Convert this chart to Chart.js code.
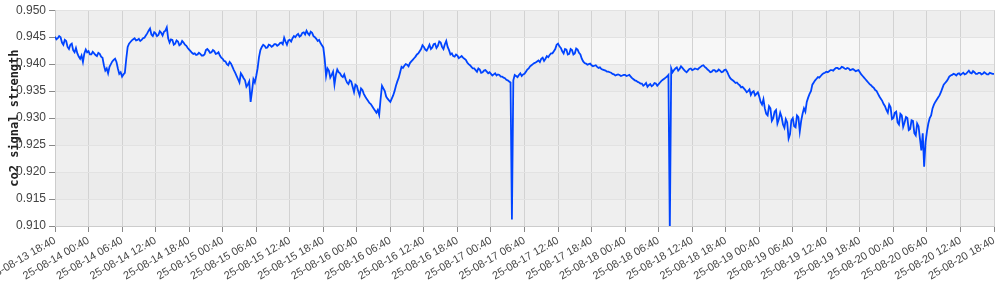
<!DOCTYPE html>
<html><head><meta charset="utf-8">
<script src="https://cdn.jsdelivr.net/npm/chart.js@4"></script>
<style>html,body{margin:0;padding:0;background:#fff}#wrap{width:1000px;height:290px}</style>
</head><body><div id="wrap"><canvas id="c" width="1000" height="290"></canvas></div>
<script>
const xTickLabels = [
  "25-08-13 18:40","25-08-14 00:40","25-08-14 06:40","25-08-14 12:40","25-08-14 18:40",
  "25-08-15 00:40","25-08-15 06:40","25-08-15 12:40","25-08-15 18:40",
  "25-08-16 00:40","25-08-16 06:40","25-08-16 12:40","25-08-16 18:40",
  "25-08-17 00:40","25-08-17 06:40","25-08-17 12:40","25-08-17 18:40",
  "25-08-18 00:40","25-08-18 06:40","25-08-18 12:40","25-08-18 18:40",
  "25-08-19 00:40","25-08-19 06:40","25-08-19 12:40","25-08-19 18:40",
  "25-08-20 00:40","25-08-20 06:40","25-08-20 12:40","25-08-20 18:40"
];
const tickStepHours = 6;
const yTickValues = [0.950,0.945,0.940,0.935,0.930,0.925,0.920,0.915,0.910];
const sampleStepHours = 0.5;
// readings on the half hour (t = 0, 0.5, 1, ...)
const signal = [
  .9451,.9448,.9450,.9436,.9443,.9428,.9438,.9422,.9420,.9410,
  .9404,.9427,.9424,.9418,.9420,.9415,.9419,.9412,.9388,.9383,
  .9400,.9408,.9404,.9382,.9377,.9384,.9432,.9441,.9446,.9444,
  .9447,.9445,.9449,.9457,.9466,.9452,.9457,.9454,.9458,.9460,
  .9468,.9440,.9445,.9438,.9442,.9437,.9440,.9434,.9427,.9421,
  .9420,.9418,.9419,.9416,.9426,.9425,.9422,.9424,.9420,.9416,
  .9410,.9405,.9398,.9401,.9389,.9378,.9366,.9379,.9370,.9362,
  .9330,.9372,.9378,.9413,.9432,.9434,.9431,.9435,.9434,.9437,
  .9436,.9440,.9449,.9436,.9445,.9448,.9450,.9456,.9453,.9459,
  .9462,.9454,.9458,.9450,.9443,.9439,.9431,.9378,.9388,.9380,
  .9362,.9390,.9383,.9376,.9372,.9363,.9368,.9348,.9360,.9342,
  .9352,.9340,.9332,.9326,.9318,.9310,.9306,.9360,.9350,.9336,
  .9330,.9342,.9360,.9375,.9395,.9397,.9399,.9402,.9408,.9414,
  .9420,.9428,.9432,.9425,.9436,.9431,.9438,.9434,.9440,.9428,
  .9443,.9426,.9420,.9414,.9416,.9413,.9412,.9408,.9400,.9395,
  .9392,.9386,.9390,.9385,.9389,.9383,.9382,.9381,.9379,.9380,
  .9377,.9374,.9370,.9366,.9370,.9378,.9380,.9378,.9382,.9390,
  .9396,.9400,.9403,.9407,.9410,.9406,.9415,.9417,.9420,.9428,
  .9438,.9430,.9420,.9427,.9419,.9426,.9420,.9427,.9418,.9405,
  .9401,.9400,.9398,.9397,.9395,.9394,.9390,.9388,.9386,.9384,
  .9381,.9380,.9380,.9379,.9380,.9379,.9377,.9372,.9369,.9366,
  .9364,.9362,.9358,.9363,.9361,.9364,.9363,.9369,.9373,.9377,
  .9090,.9385,.9392,.9388,.9396,.9390,.9385,.9391,.9389,.9392,
  .9390,.9395,.9398,.9393,.9388,.9386,.9389,.9387,.9388,.9386,
  .9390,.9380,.9372,.9368,.9366,.9361,.9358,.9352,.9350,.9343,
  .9350,.9345,.9340,.9325,.9318,.9305,.9318,.9300,.9315,.9298,
  .9302,.9282,.9292,.9270,.9300,.9283,.9302,.9295,.9318,.9330,
  .9345,.9362,.9370,.9376,.9378,.9383,.9386,.9387,.9389,.9391,
  .9393,.9392,.9394,.9391,.9392,.9390,.9389,.9388,.9385,.9378,
  .9372,.9366,.9361,.9356,.9350,.9340,.9332,.9322,.9310,.9320,
  .9300,.9312,.9288,.9305,.9292,.9300,.9280,.9295,.9268,.9285,
  .9240,.9210,.9275,.9300,.9318,.9330,.9338,.9348,.9362,.9368,
  .9377,.9380,.9381,.9382,.9380,.9384,.9382,.9388,.9383,.9385,
  .9382,.9384,.9382,.9383,.9381,.9383,.9382
];
// readings a quarter hour later (t = 0.25, 0.75, 1.25, ...)
const signalQuarter = [
  .9446,.9452,.9440,.9445,.9432,.9436,.9426,.9430,.9414,.9416,
  .9420,.9422,.9418,.9423,.9417,.9421,.9414,.9398,.9392,.9395,
  .9405,.9410,.9392,.9385,.9381,.9410,.9438,.9444,.9448,.9445,
  .9443,.9448,.9453,.9462,.9455,.9459,.9452,.9461,.9453,.9462,
  .9448,.9446,.9436,.9444,.9435,.9443,.9436,.9430,.9424,.9419,
  .9417,.9421,.9416,.9418,.9428,.9421,.9426,.9419,.9422,.9412,
  .9406,.9400,.9404,.9395,.9384,.9372,.9383,.9374,.9358,.9368,
  .9350,.9366,.9392,.9426,.9436,.9430,.9436,.9432,.9437,.9434,
  .9439,.9437,.9442,.9444,.9442,.9452,.9454,.9451,.9458,.9455,
  .9457,.9460,.9452,.9447,.9445,.9435,.9410,.9392,.9375,.9386,
  .9380,.9385,.9378,.9381,.9366,.9370,.9358,.9362,.9350,.9355,
  .9345,.9336,.9328,.9322,.9314,.9315,.9335,.9355,.9340,.9333,
  .9336,.9350,.9368,.9385,.9393,.9400,.9396,.9405,.9411,.9418,
  .9424,.9435,.9427,.9430,.9428,.9437,.9430,.9442,.9432,.9437,
  .9432,.9418,.9415,.9418,.9411,.9415,.9410,.9403,.9398,.9392,
  .9389,.9392,.9384,.9388,.9386,.9385,.9379,.9383,.9381,.9377,
  .9375,.9371,.9368,.9112,.9380,.9376,.9383,.9381,.9386,.9392,
  .9398,.9402,.9405,.9404,.9412,.9410,.9413,.9420,.9424,.9436,
  .9433,.9424,.9428,.9418,.9428,.9418,.9429,.9421,.9410,.9402,
  .9399,.9401,.9396,.9398,.9393,.9391,.9389,.9386,.9385,.9382,
  .9379,.9381,.9378,.9380,.9378,.9380,.9374,.9370,.9367,.9364,
  .9360,.9365,.9361,.9359,.9365,.9360,.9366,.9371,.9375,.9380,
  .9392,.9389,.9394,.9391,.9393,.9387,.9388,.9392,.9390,.9391,
  .9393,.9397,.9395,.9390,.9385,.9389,.9386,.9390,.9385,.9389,
  .9386,.9375,.9370,.9365,.9363,.9357,.9355,.9348,.9353,.9348,
  .9342,.9348,.9330,.9335,.9308,.9322,.9295,.9312,.9290,.9310,
  .9288,.9298,.9262,.9296,.9285,.9305,.9275,.9308,.9312,.9338,
  .9350,.9366,.9373,.9375,.9381,.9384,.9385,.9389,.9388,.9393,
  .9391,.9395,.9392,.9393,.9389,.9391,.9387,.9389,.9381,.9375,
  .9369,.9363,.9358,.9352,.9345,.9336,.9326,.9315,.9325,.9298,
  .9310,.9292,.9308,.9284,.9302,.9278,.9296,.9272,.9290,.9262,
  .9272,.9255,.9290,.9305,.9325,.9334,.9342,.9355,.9365,.9372,
  .9379,.9382,.9379,.9383,.9382,.9381,.9385,.9384,.9387,.9382,
  .9384,.9381,.9385,.9381,.9384,.9382
];
const points = [];
signal.forEach((v, i) => {
  points.push({x: i * sampleStepHours, y: v});
  if (i < signalQuarter.length) points.push({x: i * sampleStepHours + sampleStepHours / 2, y: signalQuarter[i]});
});

const aboveBand = ['#eeeeee', '#f7f7f7'];
const belowBand = ['#ebebeb', '#efefef'];

function drawBands(ctx, a, y, colors) {
  for (let k = 0; k < yTickValues.length - 1; k++) {
    const t = y.getPixelForValue(yTickValues[k]);
    const b = y.getPixelForValue(yTickValues[k + 1]);
    ctx.fillStyle = colors[k % 2];
    ctx.fillRect(a.left, t, a.right - a.left, b - t);
  }
}

const bandPlugin = {
  id: 'bands',
  beforeDraw(chart) {
    const {ctx, chartArea: a, scales: {y}} = chart;
    ctx.save();
    drawBands(ctx, a, y, aboveBand);
    const pts = chart.getDatasetMeta(0).data;
    ctx.beginPath();
    ctx.rect(a.left, a.top, a.right - a.left, a.bottom - a.top);
    ctx.clip();
    ctx.beginPath();
    ctx.moveTo(pts[0].x, a.bottom);
    pts.forEach(p => ctx.lineTo(p.x, p.y));
    ctx.lineTo(pts[pts.length - 1].x, a.bottom);
    ctx.closePath();
    ctx.clip();
    drawBands(ctx, a, y, belowBand);
    ctx.restore();
  }
};

new Chart(document.getElementById('c'), {
  type: 'line',
  data: {
    datasets: [{
      data: points,
      borderColor: '#0044ff',
      borderWidth: 1.8,
      pointRadius: 0,
      tension: 0,
      fill: false
    }]
  },
  options: {
    responsive: false,
    animation: false,
    devicePixelRatio: 1,
    layout: {padding: {top: 6, right: 6, left: 0, bottom: 0}},
    plugins: {legend: {display: false}, tooltip: {enabled: false}},
    scales: {
      x: {
        type: 'linear',
        min: 0,
        max: (xTickLabels.length - 1) * tickStepHours,
        ticks: {
          stepSize: tickStepHours,
          autoSkip: false,
          minRotation: 30,
          maxRotation: 30,
          color: '#444',
          font: {family: '"Liberation Sans", Arial, sans-serif', size: 11},
          padding: 2,
          callback: (v) => xTickLabels[Math.round(v / tickStepHours)]
        },
        grid: {color: '#d2d2d2', tickColor: '#888', tickLength: 6, lineWidth: 1},
        border: {color: '#cccccc'},
        afterFit: (s) => { s.height = 64; s.paddingLeft = 0; s.paddingRight = 0; }
      },
      y: {
        min: 0.910,
        max: 0.950,
        afterBuildTicks: (s) => { s.ticks = yTickValues.map(v => ({value: v})); },
        ticks: {
          color: '#444',
          font: {family: '"Liberation Sans", Arial, sans-serif', size: 12},
          padding: 3,
          callback: (v) => Number(v).toFixed(3)
        },
        grid: {color: '#e2e2e2', tickColor: '#888', tickLength: 6},
        border: {color: '#cccccc'},
        title: {
          display: true,
          text: 'co2 signal strength',
          color: '#222',
          font: {family: '"DejaVu Sans Mono", monospace', size: 12, weight: 'bold'},
          padding: {top: 8, bottom: 0}
        },
        afterFit: (s) => { s.width = 55; }
      }
    }
  },
  plugins: [bandPlugin]
});
</script>
</body></html>
